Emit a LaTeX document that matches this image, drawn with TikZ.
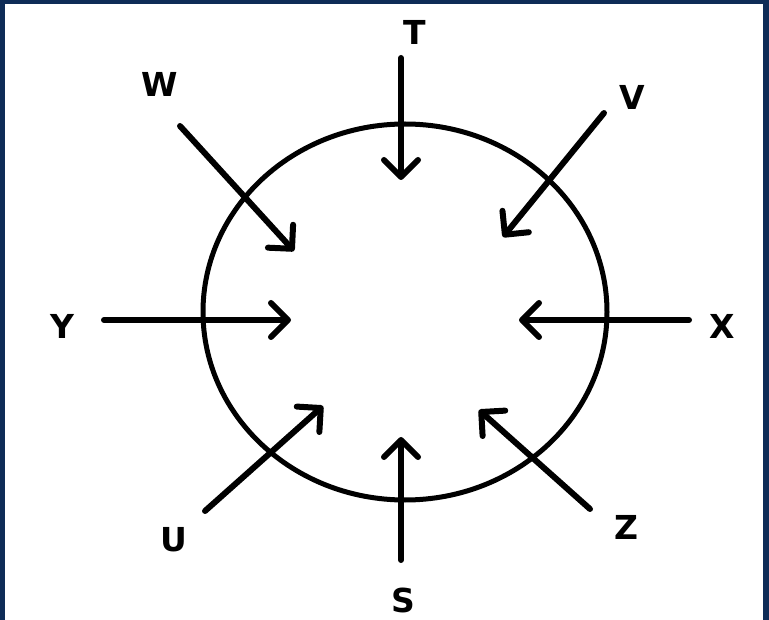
\documentclass[tikz,border=0pt]{standalone}
\usepackage{fontspec}
\setmainfont{DejaVu Sans}
\usetikzlibrary{arrows.meta}
\definecolor{navy}{HTML}{0E2C57}
\begin{document}
\begin{tikzpicture}[x=1pt,y=-1pt,
  lbl/.style={font=\fontsize{33}{36}\selectfont\bfseries, inner sep=0pt, text=black},
  arr/.style={line width=6pt, line cap=round, -{Straight Barb[length=17pt,width=34pt,line width=6pt,round]}}]
\useasboundingbox (0,0) rectangle (769,620);
\fill[navy] (0,0) rectangle (769,620);
\fill[white] (5,4) rectangle (763,620);
\draw[line width=5pt] (405,312) ellipse [x radius=202, y radius=188];
% endpoints
\coordinate (t1) at (401,58);  \coordinate (t2) at (401,180);
\coordinate (s1) at (401,560); \coordinate (s2) at (401,437);
\coordinate (y1) at (104,320); \coordinate (y2) at (291,320);
\coordinate (x1) at (689,320); \coordinate (x2) at (519,320);
\coordinate (w1) at (180,126); \coordinate (w2) at (294,251);
\coordinate (v1) at (604,113); \coordinate (v2) at (503,237);
\coordinate (u1) at (205,511); \coordinate (u2) at (323,406);
\coordinate (z1) at (590,509); \coordinate (z2) at (479,410);
\draw[arr] (t1) -- (t2);
\draw[arr] (s1) -- (s2);
\draw[arr] (y1) -- (y2);
\draw[arr] (x1) -- (x2);
\draw[arr] (w1) -- (w2);
\draw[arr] (v1) -- (v2);
\draw[arr] (u1) -- (u2);
\draw[arr] (z1) -- (z2);
\node[lbl] (T) at (415,32) {T};
\node[lbl] (S) at (403,600) {S};
\node[lbl] (Y) at (62,326) {Y};
\node[lbl] (X) at (722,326) {X};
\node[lbl] (W) at (160,84) {W};
\node[lbl] (V) at (632,97) {V};
\node[lbl] (U) at (174,540) {U};
\node[lbl] (Z) at (626,527) {Z};
\end{tikzpicture}
\end{document}
